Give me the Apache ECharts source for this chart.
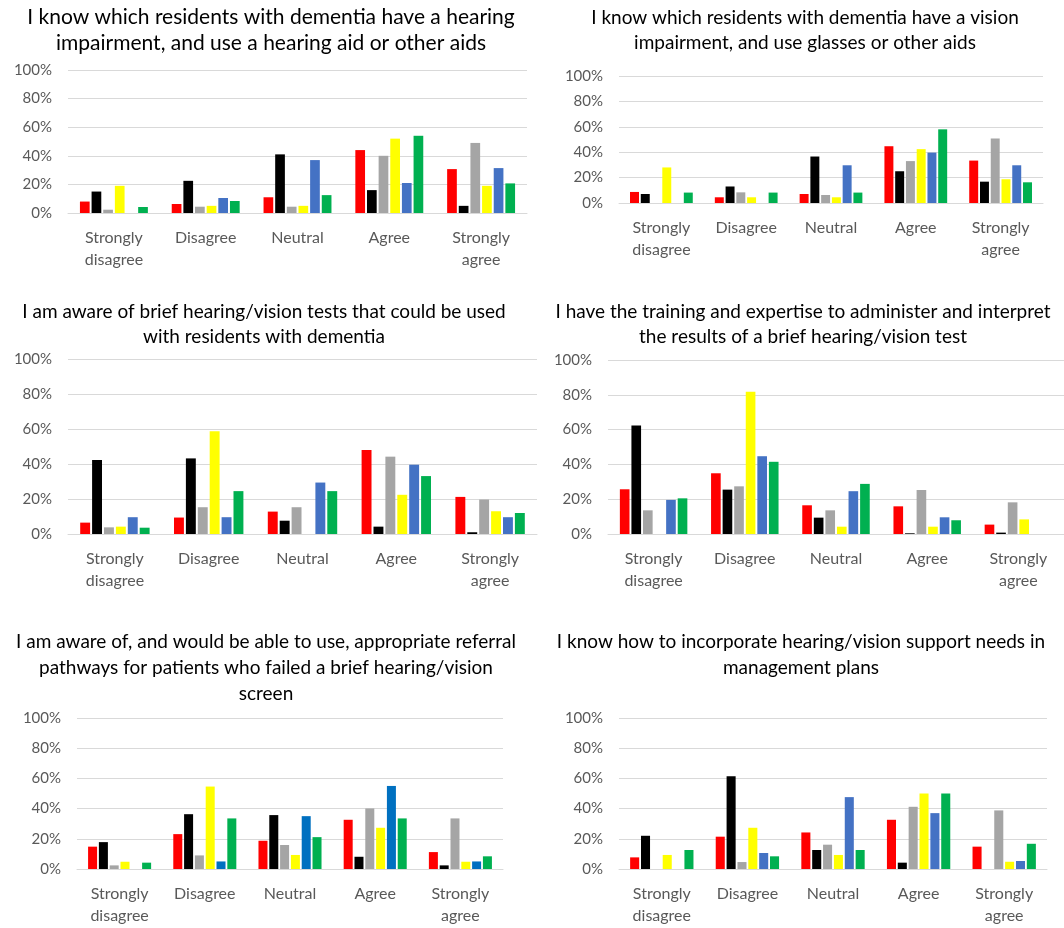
<!DOCTYPE html>
<html>
<head>
<meta charset="utf-8">
<script src="https://cdn.jsdelivr.net/npm/echarts@6/dist/echarts.min.js"></script>
<style>
html,body{margin:0;padding:0;background:#fff;}
#chart{width:1064px;height:928px;}
</style>
</head>
<body>
<div id="chart"></div>
<script>
// ---- data ----
const categories = ['Strongly\ndisagree', 'Disagree', 'Neutral', 'Agree', 'Strongly\nagree'];
const yTicks = ['0%', '20%', '40%', '60%', '80%', '100%'];
const seriesColors = ['#FF0000', '#000000', '#A5A5A5', '#FFFF00', '#4472C4', '#00B050'];
const seriesColorsP5 = ['#FF0000', '#000000', '#A5A5A5', '#FFFF00', '#0070C0', '#00B050'];

const titles = [
  'I know which residents with dementia have a hearing\nimpairment, and use a hearing aid or other aids',
  'I know which residents with dementia have a vision\nimpairment, and use glasses or other aids',
  'I am aware of brief hearing/vision tests that could be used\nwith residents with dementia',
  'I have the training and expertise to administer and interpret\nthe results of a brief hearing/vision test',
  'I am aware of, and would be able to use, appropriate referral\npathways for patients who failed a brief hearing/vision\nscreen',
  'I know how to incorporate hearing/vision support needs in\nmanagement plans'
];

// each panel: rows = series (red, black, gray, yellow, blue, green), columns = categories
const panel1 = [
  [8, 6.3, 11, 44, 30.7],
  [15, 22.5, 41, 16, 5],
  [2.3, 4.4, 4.4, 40, 49],
  [19, 5, 5, 52, 19],
  [0, 10.5, 37, 21, 31.4],
  [4.2, 8.4, 12.5, 54, 20.7]
];
const panel2 = [
  [8.7, 4.5, 7.1, 44.7, 33.4],
  [7.1, 13, 36.6, 25, 16.8],
  [0, 8.4, 6.3, 33, 50.8],
  [28, 4.5, 4.5, 42.4, 18.7],
  [0, 0, 29.7, 39.7, 29.7],
  [8.2, 8.2, 8.2, 58, 16.3]
];
const panel3 = [
  [6.5, 9.4, 12.8, 48, 21.2],
  [42.3, 43.2, 7.6, 4.2, 1],
  [3.8, 15.3, 15.3, 44.2, 19.7],
  [4.2, 58.7, 0, 22.4, 13],
  [9.6, 9.6, 29.4, 39.6, 9.6],
  [3.6, 24.5, 24.5, 33.1, 12]
];
const panel4 = [
  [25.7, 34.9, 16.5, 15.9, 5.4],
  [62.4, 25.5, 9.4, 0.4, 0.8],
  [13.6, 27.4, 13.6, 25.3, 18.2],
  [0, 81.8, 4.2, 4.2, 8.4],
  [19.6, 44.7, 24.6, 9.6, 0],
  [20.5, 41.5, 28.8, 7.9, 0]
];
const panel5 = [
  [14.8, 23.1, 18.7, 32.6, 11.2],
  [17.8, 36.3, 35.7, 8.1, 2.4],
  [2.4, 9, 15.9, 40.1, 33.5],
  [4.8, 54.6, 9.3, 27.3, 4.8],
  [0, 5, 35, 55, 5],
  [4.2, 33.5, 21.1, 33.5, 8.4]
];
const panel6 = [
  [7.7, 21.4, 24.2, 32.6, 14.8],
  [22, 61.5, 12.6, 4.2, 0],
  [0, 4.6, 16.1, 41.2, 38.8],
  [9.3, 27.3, 9.3, 50, 4.8],
  [0, 10.6, 47.6, 37, 5.3],
  [12.6, 8.4, 12.6, 50, 16.7]
];

// ---- layout ----
const panels = [panel1, panel2, panel3, panel4, panel5, panel6];
const grids = [
  {left: 68, top: 70, width: 459, height: 143},
  {left: 619, top: 76, width: 424, height: 127},
  {left: 68, top: 359, width: 469, height: 175},
  {left: 608, top: 360, width: 456, height: 174},
  {left: 77, top: 718, width: 426, height: 151},
  {left: 619, top: 718, width: 428, height: 151}
];
const titleStyle = [
  {x: 271, y: 4, size: 21, lh: 26},
  {x: 805, y: 5, size: 19, lh: 25},
  {x: 264, y: 299, size: 19, lh: 25},
  {x: 803, y: 299, size: 19, lh: 25},
  {x: 266, y: 629, size: 19, lh: 26},
  {x: 801, y: 629, size: 19, lh: 26}
];

const FONT = 'Lato, "Open Sans", sans-serif';
const option = {
  backgroundColor: '#fff',
  animation: false,
  title: [], grid: [], xAxis: [], yAxis: [], series: []
};

panels.forEach((p, i) => {
  const ts = titleStyle[i];
  option.title.push({
    text: titles[i],
    left: ts.x, top: ts.y,
    textAlign: 'center', padding: 0,
    textStyle: {fontFamily: FONT, fontSize: ts.size, fontWeight: 'normal', color: '#000', lineHeight: ts.lh}
  });
  option.grid.push(Object.assign({containLabel: false}, grids[i]));
  option.xAxis.push({
    type: 'category', gridIndex: i, data: categories,
    axisLine: {lineStyle: {color: '#D9D9D9', width: 1}},
    axisTick: {show: false},
    axisLabel: {fontFamily: FONT, fontSize: 16, color: '#595959', margin: 14, lineHeight: 22, interval: 0}
  });
  option.yAxis.push({
    type: 'value', gridIndex: i, min: 0, max: 100, interval: 20,
    axisLine: {show: false}, axisTick: {show: false},
    splitLine: {lineStyle: {color: '#D9D9D9', width: 1}},
    axisLabel: {fontFamily: FONT, fontSize: 15, color: '#595959', margin: 16,
      formatter: v => yTicks[Math.round(v / 20)]}
  });
  const cols = i === 4 ? seriesColorsP5 : seriesColors;
  p.forEach((row, s) => {
    option.series.push({
      type: 'bar', xAxisIndex: i, yAxisIndex: i, data: row,
      barGap: '20%', barCategoryGap: '26%',
      itemStyle: {color: cols[s]}
    });
  });
});

const chart = echarts.init(document.getElementById('chart'), null, {renderer: 'canvas'});
chart.setOption(option);
</script>
</body>
</html>
